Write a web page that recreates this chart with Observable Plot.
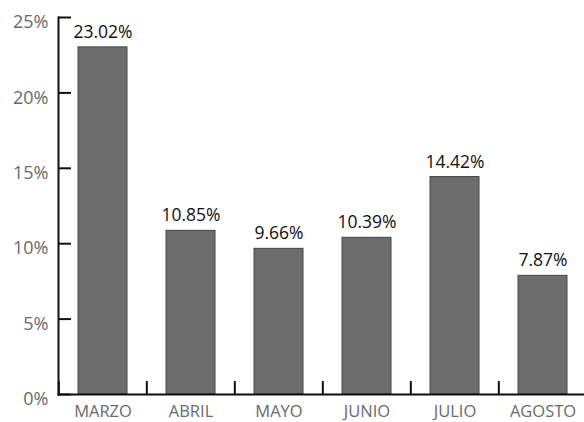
<!DOCTYPE html>
<html>
<head>
<meta charset="utf-8">
<script src="https://cdn.jsdelivr.net/npm/d3@7"></script>
<script src="https://cdn.jsdelivr.net/npm/@observablehq/plot@0.6"></script>
<style>
  html, body { margin: 0; padding: 0; background: #fff; }
  svg { font-family: "Open Sans", sans-serif; }
</style>
</head>
<body>
<div id="chart"></div>
<script>
const months = ["MARZO", "ABRIL", "MAYO", "JUNIO", "JULIO", "AGOSTO"];
const values = [23.02, 10.85, 9.66, 10.39, 14.42, 7.87];
const yTicks = [0, 5, 10, 15, 20, 25];

const data = months.map((m, i) => ({month: m, value: values[i]}));
const W = 584, H = 422, mL = 58, mT = 17, mB = 28;
const xRange = [mL, 588];
const step = (xRange[1] - xRange[0]) / months.length;

const chart = Plot.plot({
  width: W,
  height: H,
  marginLeft: mL,
  marginRight: 0,
  marginTop: mT,
  marginBottom: mB,
  style: {fontFamily: "'Open Sans', sans-serif", background: "#fff"},
  x: {domain: months, range: xRange, paddingInner: 0.44, paddingOuter: 0.22, label: null},
  y: {domain: [0, 25], label: null},
  marks: [
    Plot.barY(data, {x: "month", y: "value", fill: "#6d6d6d", stroke: "#444", strokeWidth: 1}),
    Plot.text(data, {x: "month", y: "value", text: d => d.value.toFixed(2) + "%", dy: -15, fontSize: 17.5, fill: "#111"}),
    Plot.frame({anchor: "left", stroke: "#111", strokeWidth: 2}),
    Plot.frame({anchor: "bottom", stroke: "#111", strokeWidth: 2}),
    Plot.axisY(yTicks, {tickSize: -13, text: null, stroke: "#111", strokeWidth: 2}),
    Plot.axisY(yTicks, {tickSize: 0, tickPadding: 10, dy: 5, tickFormat: d => d + "%", fontSize: 18, fill: "#6a6a6a", label: null}),
    Plot.axisX(months, {tickSize: -13, text: null, dx: -step / 2, stroke: "#111", strokeWidth: 2}),
    Plot.axisX(months, {tickSize: 0, tickPadding: 11, fontSize: 16.5, fill: "#6a6a6a", label: null})
  ]
});
document.getElementById("chart").appendChild(chart);
</script>
</body>
</html>
